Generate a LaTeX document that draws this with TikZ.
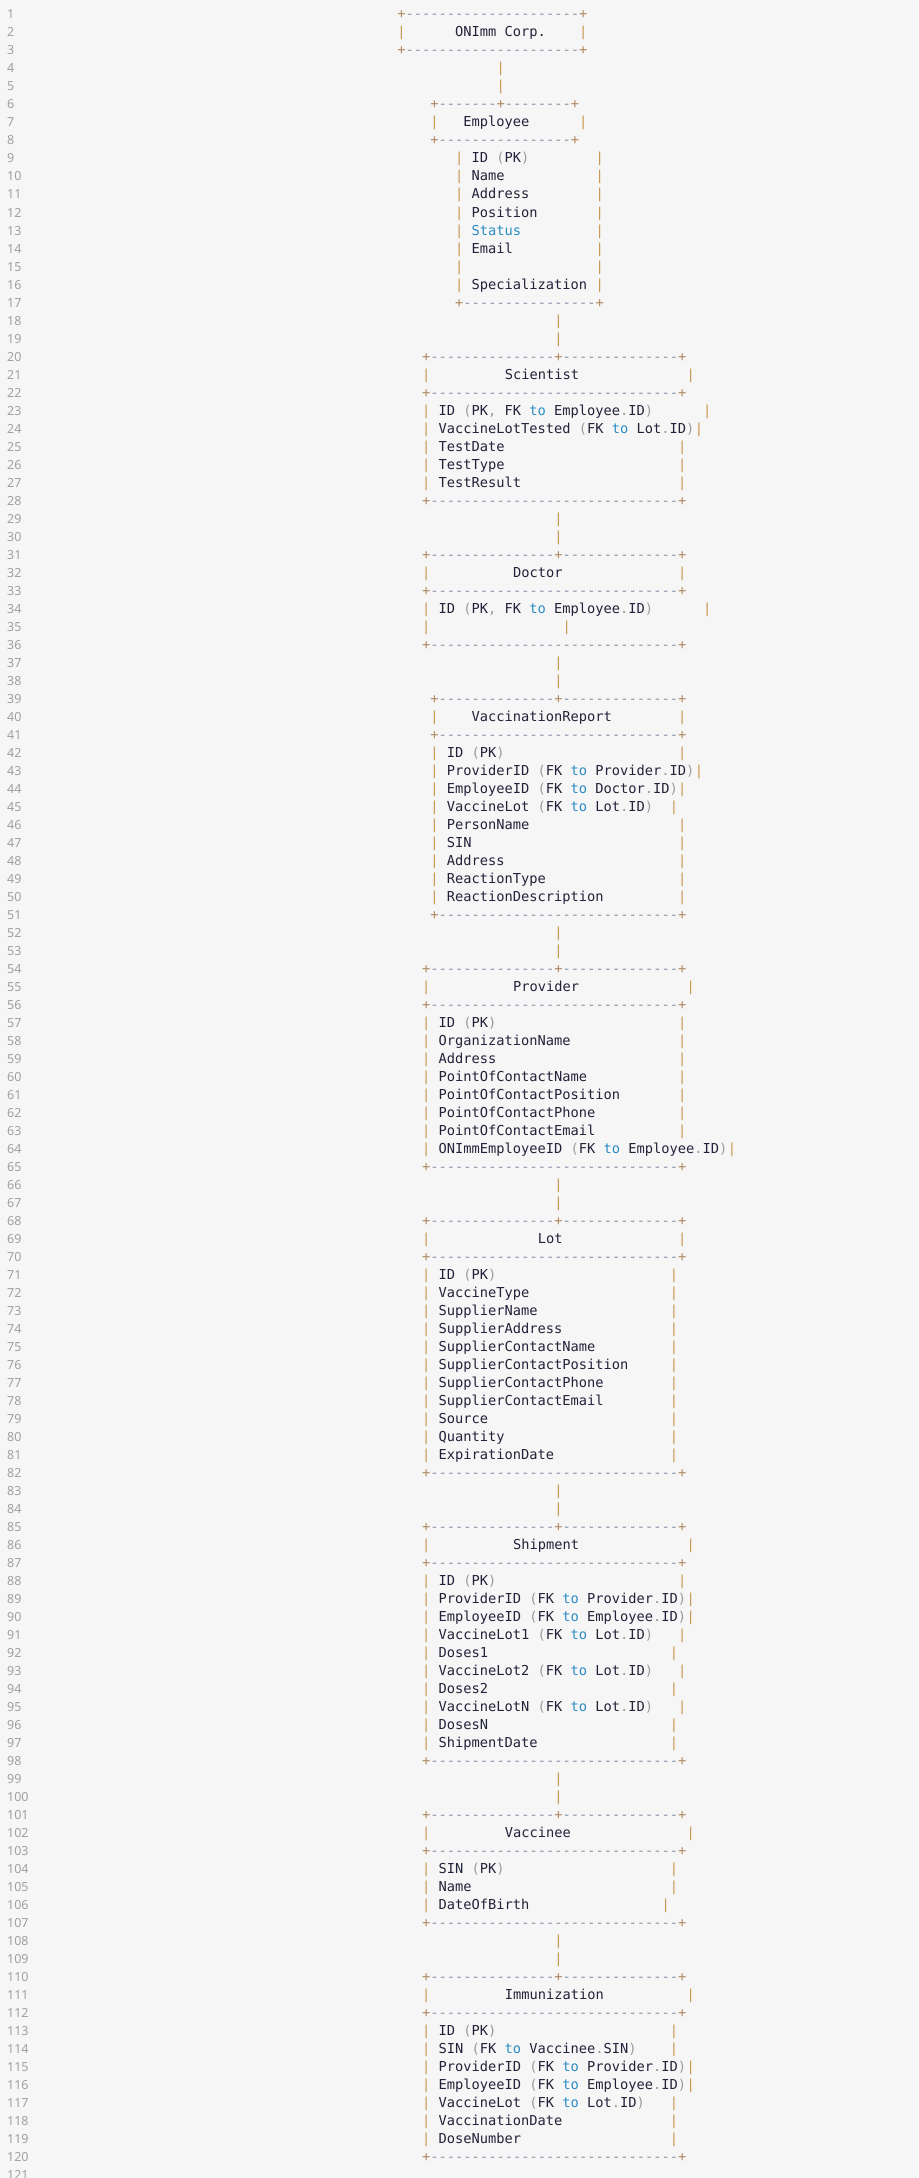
\documentclass[tikz,border=0pt]{standalone}
\usepackage{fontspec}
\setmonofont{DejaVu Sans Mono}
\newfontfamily\numfont{Noto Sans}
\definecolor{bg}{HTML}{F6F6F6}
\definecolor{pc}{HTML}{B08860}
\definecolor{dc}{HTML}{8494AC}
\definecolor{bc}{HTML}{C8964E}
\definecolor{tc}{HTML}{22223A}
\definecolor{gc}{HTML}{9A9A9A}
\definecolor{blc}{HTML}{2A8CC4}
\definecolor{nc}{HTML}{A0A0A0}
\tikzset{t/.style={inner sep=0pt,outer sep=0pt,anchor=base west,font=\ttfamily\fontsize{13.7}{16}\selectfont,text=tc},
num/.style={inner sep=0pt,anchor=base west,font=\numfont\fontsize{12.5}{15}\selectfont,text=nc}}
\newcommand\Qch[3]{\node[t] at ({397.4+8.26*(#2)},{-(19+18*((#1)-1))}) {#3};}
\newcommand\Qpl[2]{\Qch{#1}{#2}{\textcolor{pc}{+}}}
\newcommand\Qvb[2]{\Qch{#1}{#2}{\textcolor{bc}{|}}}
\newcommand\Qd[3]{\foreach \c in {#2,...,#3}{\Qch{#1}{\c}{\textcolor{dc}{-}}}}
\newcommand\Qh[3]{\Qpl{#1}{#2}\pgfmathtruncatemacro\qa{#2+1}\pgfmathtruncatemacro\qb{#3-1}\Qd{#1}{\qa}{\qb}\Qpl{#1}{#3}}
\newcommand\Qtop[4]{\Qpl{#1}{#2}\Qpl{#1}{#3}\Qpl{#1}{#4}%
 \pgfmathtruncatemacro\qa{#2+1}\pgfmathtruncatemacro\qb{#3-1}\Qd{#1}{\qa}{\qb}%
 \pgfmathtruncatemacro\qa{#3+1}\pgfmathtruncatemacro\qb{#4-1}\Qd{#1}{\qa}{\qb}}
\newcommand\Qrow[4]{\Qvb{#1}{#2}\Qvb{#1}{#3}\Qch{#1}{#2+2}{#4}}
\newcommand\Qgy[1]{\textcolor{gc}{#1}}
\newcommand\Qbl[1]{\textcolor{blc}{#1}}
\newcommand\Qpk{\Qgy{(}PK\Qgy{)}}
\newcommand\Qfk[2]{\Qgy{(}FK \Qbl{to} #1\Qgy{.}#2\Qgy{)}}
\begin{document}
\begin{tikzpicture}[x=1pt,y=1pt]
\fill[bg] (0,0) rectangle (918,-2178);
\useasboundingbox (0,0) rectangle (918,-2178);
\foreach \n in {1,...,121}{\node[num] at (7,{-(19+18*(\n-1))}) {\n};}
% ONImm Corp.
\Qh{1}{0}{22}
\Qvb{2}{0}\Qch{2}{7}{ONImm Corp.}\Qvb{2}{22}
\Qh{3}{0}{22}
\Qvb{4}{12}\Qvb{5}{12}
% Employee
\Qtop{6}{4}{12}{21}
\Qvb{7}{4}\Qch{7}{8}{Employee}\Qvb{7}{22}
\Qh{8}{4}{21}
\Qrow{9}{7}{24}{ID \Qpk}
\Qrow{10}{7}{24}{Name}
\Qrow{11}{7}{24}{Address}
\Qrow{12}{7}{24}{Position}
\Qrow{13}{7}{24}{\Qbl{Status}}
\Qrow{14}{7}{24}{Email}
\Qvb{15}{7}\Qvb{15}{24}
\Qrow{16}{7}{24}{Specialization}
\Qh{17}{7}{24}
\Qvb{18}{19}\Qvb{19}{19}
% Scientist
\Qtop{20}{3}{19}{34}
\Qvb{21}{3}\Qch{21}{13}{Scientist}\Qvb{21}{35}
\Qh{22}{3}{34}
\Qrow{23}{3}{37}{ID \Qgy{(}PK\Qgy{,} FK \Qbl{to} Employee\Qgy{.}ID\Qgy{)}}
\Qrow{24}{3}{36}{VaccineLotTested \Qfk{Lot}{ID}}
\Qrow{25}{3}{34}{TestDate}
\Qrow{26}{3}{34}{TestType}
\Qrow{27}{3}{34}{TestResult}
\Qh{28}{3}{34}
\Qvb{29}{19}\Qvb{30}{19}
% Doctor
\Qtop{31}{3}{19}{34}
\Qvb{32}{3}\Qch{32}{14}{Doctor}\Qvb{32}{34}
\Qh{33}{3}{34}
\Qrow{34}{3}{37}{ID \Qgy{(}PK\Qgy{,} FK \Qbl{to} Employee\Qgy{.}ID\Qgy{)}}
\Qvb{35}{3}\Qvb{35}{20}
\Qh{36}{3}{34}
\Qvb{37}{19}\Qvb{38}{19}
% VaccinationReport
\Qtop{39}{4}{19}{34}
\Qvb{40}{4}\Qch{40}{9}{VaccinationReport}\Qvb{40}{34}
\Qh{41}{4}{34}
\Qrow{42}{4}{34}{ID \Qpk}
\Qrow{43}{4}{36}{ProviderID \Qfk{Provider}{ID}}
\Qrow{44}{4}{34}{EmployeeID \Qfk{Doctor}{ID}}
\Qrow{45}{4}{33}{VaccineLot \Qfk{Lot}{ID}}
\Qrow{46}{4}{34}{PersonName}
\Qrow{47}{4}{34}{SIN}
\Qrow{48}{4}{34}{Address}
\Qrow{49}{4}{34}{ReactionType}
\Qrow{50}{4}{34}{ReactionDescription}
\Qh{51}{4}{34}
\Qvb{52}{19}\Qvb{53}{19}
% Provider
\Qtop{54}{3}{19}{34}
\Qvb{55}{3}\Qch{55}{14}{Provider}\Qvb{55}{35}
\Qh{56}{3}{34}
\Qrow{57}{3}{34}{ID \Qpk}
\Qrow{58}{3}{34}{OrganizationName}
\Qrow{59}{3}{34}{Address}
\Qrow{60}{3}{34}{PointOfContactName}
\Qrow{61}{3}{34}{PointOfContactPosition}
\Qrow{62}{3}{34}{PointOfContactPhone}
\Qrow{63}{3}{34}{PointOfContactEmail}
\Qrow{64}{3}{40}{ONImmEmployeeID \Qfk{Employee}{ID}}
\Qh{65}{3}{34}
\Qvb{66}{19}\Qvb{67}{19}
% Lot
\Qtop{68}{3}{19}{34}
\Qvb{69}{3}\Qch{69}{17}{Lot}\Qvb{69}{34}
\Qh{70}{3}{34}
\Qrow{71}{3}{33}{ID \Qpk}
\Qrow{72}{3}{33}{VaccineType}
\Qrow{73}{3}{33}{SupplierName}
\Qrow{74}{3}{33}{SupplierAddress}
\Qrow{75}{3}{33}{SupplierContactName}
\Qrow{76}{3}{33}{SupplierContactPosition}
\Qrow{77}{3}{33}{SupplierContactPhone}
\Qrow{78}{3}{33}{SupplierContactEmail}
\Qrow{79}{3}{33}{Source}
\Qrow{80}{3}{33}{Quantity}
\Qrow{81}{3}{33}{ExpirationDate}
\Qh{82}{3}{34}
\Qvb{83}{19}\Qvb{84}{19}
% Shipment
\Qtop{85}{3}{19}{34}
\Qvb{86}{3}\Qch{86}{14}{Shipment}\Qvb{86}{35}
\Qh{87}{3}{34}
\Qrow{88}{3}{34}{ID \Qpk}
\Qrow{89}{3}{35}{ProviderID \Qfk{Provider}{ID}}
\Qrow{90}{3}{35}{EmployeeID \Qfk{Employee}{ID}}
\Qrow{91}{3}{34}{VaccineLot1 \Qfk{Lot}{ID}}
\Qrow{92}{3}{33}{Doses1}
\Qrow{93}{3}{34}{VaccineLot2 \Qfk{Lot}{ID}}
\Qrow{94}{3}{33}{Doses2}
\Qrow{95}{3}{34}{VaccineLotN \Qfk{Lot}{ID}}
\Qrow{96}{3}{33}{DosesN}
\Qrow{97}{3}{33}{ShipmentDate}
\Qh{98}{3}{34}
\Qvb{99}{19}\Qvb{100}{19}
% Vaccinee
\Qtop{101}{3}{19}{34}
\Qvb{102}{3}\Qch{102}{13}{Vaccinee}\Qvb{102}{35}
\Qh{103}{3}{34}
\Qrow{104}{3}{33}{SIN \Qpk}
\Qrow{105}{3}{33}{Name}
\Qrow{106}{3}{32}{DateOfBirth}
\Qh{107}{3}{34}
\Qvb{108}{19}\Qvb{109}{19}
% Immunization
\Qtop{110}{3}{19}{34}
\Qvb{111}{3}\Qch{111}{13}{Immunization}\Qvb{111}{35}
\Qh{112}{3}{34}
\Qrow{113}{3}{33}{ID \Qpk}
\Qrow{114}{3}{33}{SIN \Qfk{Vaccinee}{SIN}}
\Qrow{115}{3}{35}{ProviderID \Qfk{Provider}{ID}}
\Qrow{116}{3}{35}{EmployeeID \Qfk{Employee}{ID}}
\Qrow{117}{3}{33}{VaccineLot \Qfk{Lot}{ID}}
\Qrow{118}{3}{33}{VaccinationDate}
\Qrow{119}{3}{33}{DoseNumber}
\Qh{120}{3}{34}
\end{tikzpicture}
\end{document}
